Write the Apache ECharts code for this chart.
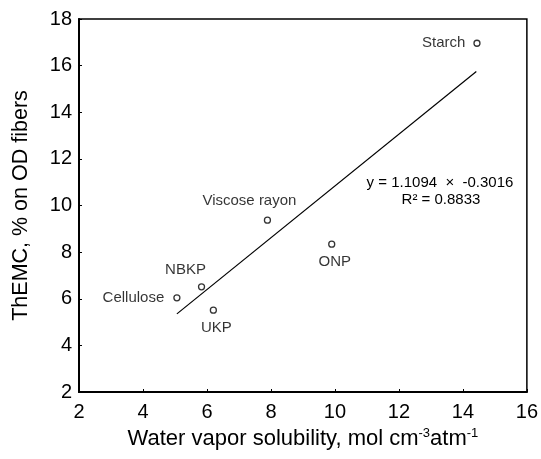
<!DOCTYPE html>
<html>
<head>
<meta charset="utf-8">
<script src="https://cdn.jsdelivr.net/npm/echarts@6/dist/echarts.min.js"></script>
<style>
  html, body { margin: 0; padding: 0; background: #fff; }
  #chart { width: 541px; height: 459px; }
</style>
</head>
<body>
<div id="chart"></div>
<script>
// fibre samples: water vapour solubility vs ThEMC
const names = ['Cellulose', 'NBKP', 'UKP', 'Viscose rayon', 'ONP', 'Starch'];
const solubility = [5.06, 5.83, 6.2, 7.89, 9.9, 14.44];
const themc = [6.04, 6.51, 5.51, 9.37, 8.34, 16.96];

// regression line endpoints as drawn
const trendX = [5.06, 14.42];
const trendY = [5.35, 15.75];

const xTicks = [2, 4, 6, 8, 10, 12, 14, 16];
const yTicks = [2, 4, 6, 8, 10, 12, 14, 16, 18];

const fontFam = '"Liberation Sans", Arial, Helvetica, sans-serif';

// where each label sits relative to its marker
const labelStyle = {
  'Cellulose': { position: 'left', distance: 9 },
  'NBKP': { position: 'inside', offset: [-16, -17] },
  'UKP': { position: 'inside', offset: [3, 18] },
  'Viscose rayon': { position: 'inside', offset: [-18, -19] },
  'ONP': { position: 'inside', offset: [3, 18] },
  'Starch': { position: 'left', distance: 8 }
};

let chartDom = document.getElementById('chart');
let myChart = echarts.init(chartDom);

let points = names.map((n, i) => ({
  name: n,
  value: [solubility[i], themc[i]],
  label: Object.assign({ show: true, formatter: n, color: '#000' }, labelStyle[n])
}));

let option = {
  backgroundColor: '#fff',
  animation: false,
  textStyle: { fontFamily: fontFam, color: '#000' },
  grid: {
    left: 79, right: 10, top: 19, bottom: 67,
    show: true, borderColor: '#000', borderWidth: 1.5
  },
  xAxis: {
    type: 'value',
    min: xTicks[0], max: xTicks[xTicks.length - 1], interval: 2,
    name: 'Water vapor solubility, mol cm{sup|-3}atm{sup|-1}',
    nameLocation: 'middle', nameGap: 35,
    nameTextStyle: {
      fontSize: 22, color: '#000', fontFamily: fontFam,
      rich: { sup: { fontSize: 13, verticalAlign: 'top', padding: [0, 0, 10, 0], fontFamily: fontFam, color: '#000' } }
    },
    axisLine: { lineStyle: { color: '#000', width: 2 } },
    axisTick: { inside: true, length: 3, lineStyle: { color: '#000' } },
    axisLabel: { fontSize: 20, color: '#000', margin: 10, fontFamily: fontFam },
    splitLine: { show: false }
  },
  yAxis: {
    type: 'value',
    min: yTicks[0], max: yTicks[yTicks.length - 1], interval: 2,
    name: 'ThEMC, % on OD fibers',
    nameLocation: 'middle', nameGap: 47,
    nameTextStyle: { fontSize: 21.5, color: '#000', fontFamily: fontFam },
    axisLine: { lineStyle: { color: '#000', width: 2 } },
    axisTick: { inside: true, length: 3, lineStyle: { color: '#000' } },
    axisLabel: { fontSize: 20, color: '#000', margin: 7, fontFamily: fontFam },
    splitLine: { show: false }
  },
  graphic: [
    {
      type: 'text', x: 440, y: 175,
      style: { text: 'y = 1.1094  \u00d7  -0.3016', font: '15px ' + fontFam, fill: '#000', textAlign: 'center' }
    },
    {
      type: 'text', x: 441, y: 192,
      style: { text: 'R\u00b2 = 0.8833', font: '15px ' + fontFam, fill: '#000', textAlign: 'center' }
    }
  ],
  series: [
    {
      type: 'line',
      data: trendX.map((x, i) => [x, trendY[i]]),
      symbol: 'none',
      lineStyle: { color: '#000', width: 1.2 },
      z: 2
    },
    {
      type: 'scatter',
      data: points,
      symbol: 'circle',
      symbolSize: 6,
      itemStyle: { color: '#fff', borderColor: '#000', borderWidth: 1.3 },
      label: { fontSize: 15, color: '#000', fontFamily: fontFam },
      z: 3
    }
  ]
};

option && myChart.setOption(option);
</script>
</body>
</html>
